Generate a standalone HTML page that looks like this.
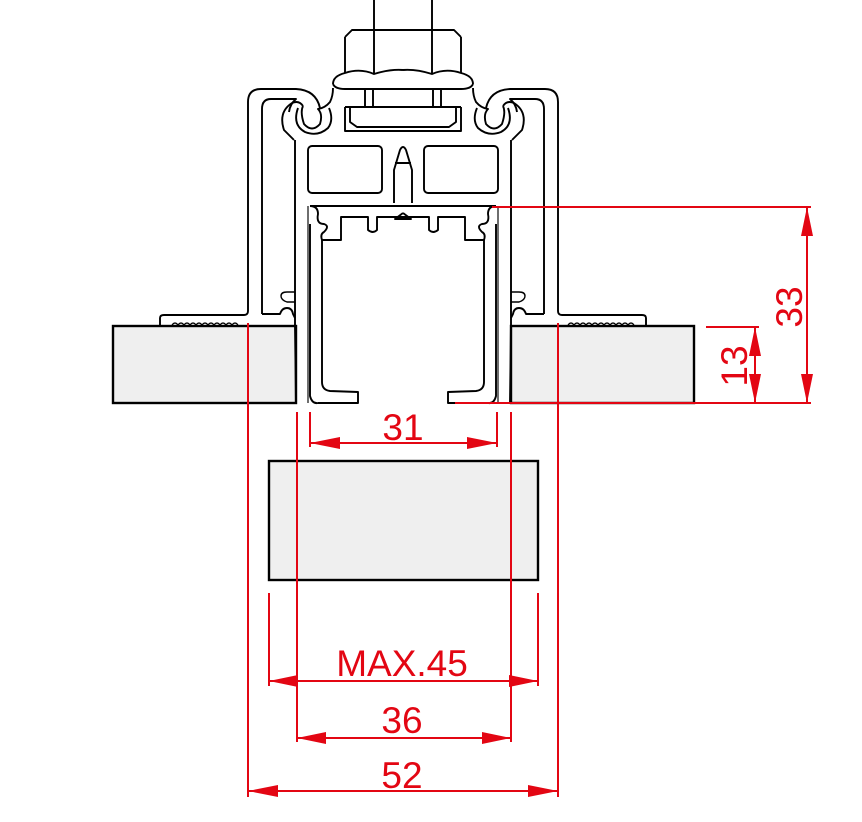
<!DOCTYPE html>
<html><head><style>
html,body{margin:0;padding:0;background:#fff;width:862px;height:822px;overflow:hidden}
svg{display:block}
text{font-family:"Liberation Sans",sans-serif;fill:#e30613;font-size:37px}
</style></head><body>
<svg width="862" height="822" viewBox="0 0 862 822" xmlns="http://www.w3.org/2000/svg">
<defs>
<g id="half" fill="none" stroke="#000" stroke-width="1.9" stroke-linejoin="round">
  <path d="M160,325 L160,318 Q160,315 164,315 L244,315 Q248,315 248,311 L248,102 Q248,89 261,89 L296,89 Q316,90 320,108"/>
  <path d="M262,314 L262,109 Q262,99 271,99 L296,99 Q290,104 289,112"/>
  <path d="M262,314 L280,314 Q282,308 287,308 Q292,308 293,314 L295,318"/>
  <path d="M295,302 L287,302 Q281,300 281,296 Q281,292 287,292 L295,292" stroke-width="1.4"/>
  <path d="M172,325 q3,-4 6,0 q3,-4 6,0 q3,-4 6,0 q3,-4 6,0 q3,-4 6,0 q3,-4 6,0 q3,-4 6,0 q3,-4 6,0 q3,-4 6,0 q3,-4 6,0 q3,-4 6,0" stroke-width="1.2"/>
  <path d="M294,140 L284,130 Q278,112 292,103 Q299,100 303,106"/>
  <path d="M303,106 Q300,112 304,124 Q312,133 320,124 Q323,114 318,109 Q325,108 330,102 Q333,96 333,88"/>
  <path d="M298,108 Q292,125 305,132 Q318,137 328,128 Q334,120 329,108"/>
  <path d="M295,140 L295,325 L296,403"/>
  <path d="M308,206 L308,403" stroke="#666"/>
  <path d="M310,224 L310,396 Q312,404 318,403"/>
  <path d="M310,206 L403,206"/>
  <path d="M310,206 Q318,206 318,214 Q316,224 324,224 Q330,226 324,232 Q320,234 322,240"/>
  <path d="M322,240 L341,240 L341,217 L368,217 L368,230 Q373,234 377,230 L377,217 L403,217"/>
  <path d="M322,240 L322,382 Q322,390 330,391 L358,392 L358,403 L318,403"/>
  <rect x="308" y="146" width="74" height="47" rx="4"/>
  <path d="M365,89 L365,107 M373,89 L373,107"/>
  <path d="M345,107 L403,107 M345,107 L345,131 L403,131 M350,107 L350,122 L357,127 L403,127"/>
  <path d="M374,0 L374,30 M345,37 L352,30 L403,30 M345,37 L345,73 M374,30 L374,74"/>
  <path d="M333,84 Q333,76 345,73 Q360,68 374,74 Q390,69 403,70"/>
  <path d="M333,84 Q335,89 345,89 L403,89"/>
  <path d="M403,213 L395,219 L403,219"/>
</g>
</defs>
<rect x="113" y="326" width="183" height="77" fill="#efefef" stroke="#000" stroke-width="2.4"/>
<rect x="511" y="326" width="183" height="77" fill="#efefef" stroke="#000" stroke-width="2.4"/>
<rect x="269" y="461" width="269" height="119" fill="#efefef" stroke="#000" stroke-width="2.4"/>
<use href="#half"/>
<use href="#half" transform="translate(806,0) scale(-1,1)"/>
<g fill="none" stroke="#000" stroke-width="1.9">
  <path d="M394,203 L394,170 L400,150 Q403,144 406,150 L412,170 L412,203 M395,163 L411,163"/>
</g>
<g stroke="#e30613" stroke-width="2" fill="none">
  <path d="M248,323 L248,797 M558,323 L558,797"/>
  <path d="M297,412 L297,742 M511,412 L511,742"/>
  <path d="M269,593 L269,686 M538,593 L538,686"/>
  <path d="M310,412 L310,447 M497,412 L497,447"/>
  <path d="M310,443 L497,443 M269,681 L538,681 M297,738 L511,738 M248,791 L558,791"/>
  <path d="M492,207 L811,207 M455,403 L811,403 M706,327 L759,327"/>
  <path d="M807,207 L807,403 M755,327 L755,403"/>
</g>
<g fill="#e30613">
  <path d="M310,443 L340,437 L340,449Z M497,443 L467,437 L467,449Z"/>
  <path d="M269,681 L298,675 L298,687Z M538,681 L509,675 L509,687Z"/>
  <path d="M297,738 L326,732 L326,744Z M511,738 L482,732 L482,744Z"/>
  <path d="M248,791 L278,785 L278,797Z M558,791 L528,785 L528,797Z"/>
  <path d="M807,207 L801,236 L813,236Z M807,403 L801,374 L813,374Z"/>
  <path d="M755,327 L749,356 L761,356Z M755,403 L749,374 L761,374Z"/>
</g>
<text x="403" y="440" text-anchor="middle">31</text>
<text x="402" y="676" text-anchor="middle">MAX.45</text>
<text x="402" y="733" text-anchor="middle">36</text>
<text x="402" y="788" text-anchor="middle">52</text>
<text transform="translate(802,307) rotate(-90)" text-anchor="middle">33</text>
<text transform="translate(747,366) rotate(-90)" text-anchor="middle">13</text>
</svg>
</body></html>
